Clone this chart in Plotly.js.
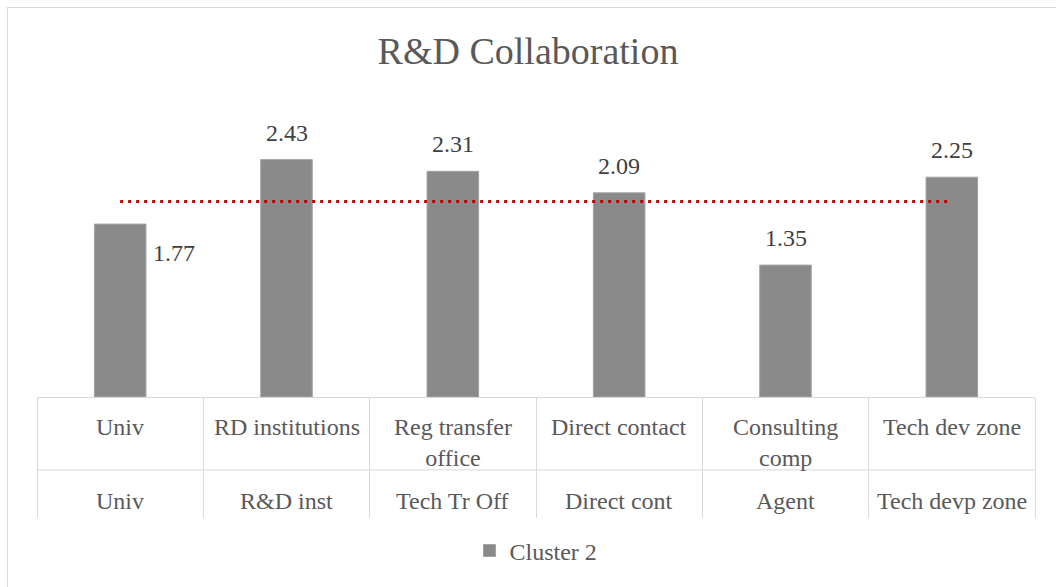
<!DOCTYPE html>
<html>
<head>
<meta charset="utf-8">
<script src="https://cdn.plot.ly/plotly-3.0.1.min.js"></script>
<style>
  html, body { margin: 0; padding: 0; background: #ffffff; }
  #wrap { position: relative; width: 1056px; height: 587px; overflow: hidden; }
  #frame { position: absolute; left: 7px; top: 7px; width: 1100px; height: 640px; border: 1px solid #d9d9d9; }
  #chart { position: absolute; left: 0; top: 0; width: 1056px; height: 587px; }
</style>
</head>
<body>
<div id="wrap">
  <div id="frame"></div>
  <div id="chart"></div>
</div>
<script>
// --- data ---
const innerLabels = ['Univ', 'RD institutions', 'Reg transfer<br>office', 'Direct contact', 'Consulting<br>comp', 'Tech dev zone'];
const outerLabels = ['Univ', 'R&D inst', 'Tech Tr Off', 'Direct cont', 'Agent', 'Tech devp zone'];
const cluster2 = [1.77, 2.43, 2.31, 2.09, 1.35, 2.25];
const refLine = [2.0, 2.0, 2.0, 2.0, 2.0, 2.0];

const font = 'Liberation Serif, Cambria, serif';
const labelSize = 24;

const data = [
  {
    type: 'bar',
    name: 'Cluster 2',
    x: innerLabels,
    y: cluster2,
    marker: { color: '#8a8a8a', line: { color: '#a3a3a3', width: 1 } },
    hoverinfo: 'y'
  },
  {
    type: 'scatter',
    mode: 'lines',
    x: innerLabels,
    y: refLine,
    showlegend: false,
    line: { color: '#c00000', width: 3, dash: '3px,5px' },
    hoverinfo: 'skip'
  }
];

const annotations = [];

// value labels: first one sits right of its bar, the rest above
cluster2.forEach((v, i) => {
  const side = i === 0;
  annotations.push({
    x: i, y: v, xref: 'x', yref: 'y',
    text: v.toFixed(2),
    showarrow: false,
    xanchor: side ? 'left' : 'center',
    yanchor: side ? 'middle' : 'bottom',
    xshift: side ? 31 : 0,
    yshift: side ? -29 : 12,
    font: { family: font, size: labelSize, color: '#404040' }
  });
});

// two rows of category labels
innerLabels.forEach((t, i) => {
  annotations.push({
    x: i, y: -0.058, xref: 'x', yref: 'paper',
    text: t, showarrow: false,
    xanchor: 'center', yanchor: 'top',
    font: { family: font, size: labelSize, color: '#595959' }
  });
});
outerLabels.forEach((t, i) => {
  annotations.push({
    x: i, y: -0.409, xref: 'x', yref: 'paper',
    text: t, showarrow: false,
    xanchor: 'center', yanchor: 'middle',
    font: { family: font, size: labelSize, color: '#595959' }
  });
});

const layout = {
  width: 1056,
  height: 587,
  paper_bgcolor: 'rgba(0,0,0,0)',
  plot_bgcolor: 'rgba(0,0,0,0)',
  margin: { l: 37, r: 21, t: 143, b: 190 },
  title: {
    text: 'R&D Collaboration',
    font: { family: font, size: 38, color: '#595959' },
    x: 0.5, xanchor: 'center',
    y: 0.913, yanchor: 'middle'
  },
  bargap: 0.69,
  showlegend: true,
  legend: {
    orientation: 'h',
    x: 0.5, xanchor: 'center',
    y: -0.606, yanchor: 'middle',
    font: { family: font, size: labelSize, color: '#595959' },
    itemwidth: 30
  },
  xaxis: {
    type: 'category',
    showline: true,
    linecolor: '#d9d9d9',
    linewidth: 1,
    showgrid: false,
    tickson: 'boundaries',
    ticks: 'outside',
    ticklen: 120,
    tickcolor: '#d9d9d9',
    tickwidth: 1,
    showticklabels: false,
    fixedrange: true
  },
  yaxis: {
    range: [0, 2.6],
    visible: false,
    fixedrange: true
  },
  annotations: annotations,
  shapes: [{
    type: 'line',
    xref: 'paper', yref: 'paper',
    x0: 0, x1: 1, y0: -0.287, y1: -0.287,
    line: { color: '#d9d9d9', width: 1 }
  }]
};

Plotly.newPlot('chart', data, layout, { displayModeBar: false, staticPlot: true });
</script>
</body>
</html>
